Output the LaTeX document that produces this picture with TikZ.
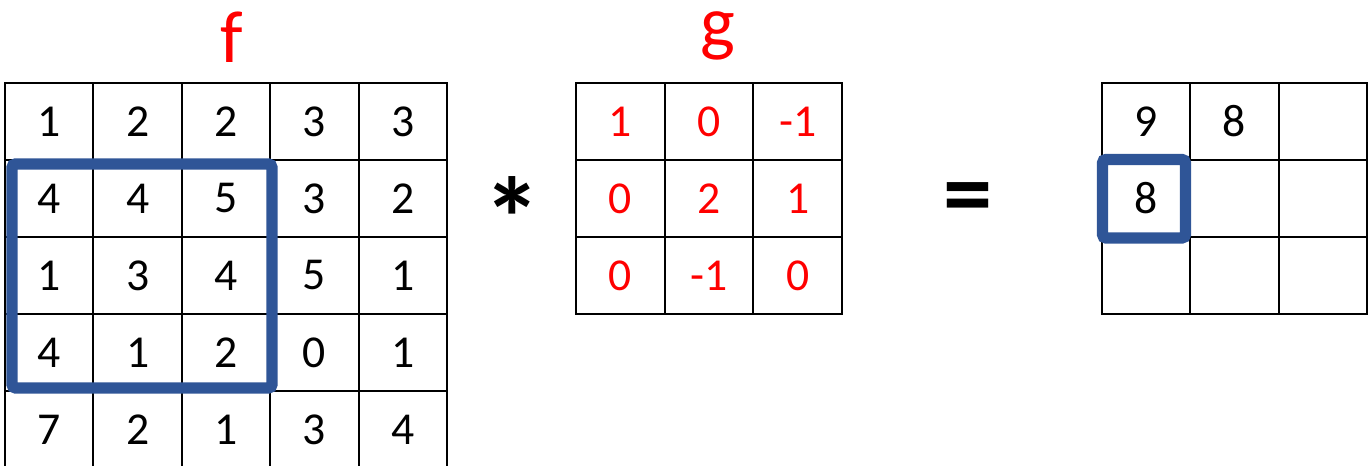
\documentclass[tikz,border=0pt]{standalone}
\usepackage{fontspec}
\setmainfont{Carlito}
\definecolor{winblue}{RGB}{47,85,151}

\begin{document}
\begin{tikzpicture}[
  fcell/.style={draw=black,line width=.6pt,minimum width=.884cm,minimum height=.77cm,inner sep=0pt,font=\fontsize{13}{15}\selectfont},
  gcell/.style={fcell,minimum width=.887cm,text=red},
  hcell/.style={fcell,minimum width=.883cm},
  title/.style={anchor=base,inner sep=0pt,text=red,font=\fontsize{21}{24}\selectfont},
  oper/.style={anchor=base,inner sep=0pt,font=\bfseries\fontsize{#1}{#1}\selectfont},
  window/.style={draw=winblue,line width=3.2pt,rounded corners=1pt}]
\useasboundingbox (0,0) rectangle (13.7,4.66);
% input f
\node[title] (ftitle) at (2.32,4.03) {f};
\node[fcell] (f11) at (.492,3.445) {1};
\node[fcell] (f12) at (1.376,3.445) {2};
\node[fcell] (f13) at (2.26,3.445) {2};
\node[fcell] (f14) at (3.144,3.445) {3};
\node[fcell] (f15) at (4.028,3.445) {3};
\node[fcell] (f21) at (.492,2.675) {4};
\node[fcell] (f22) at (1.376,2.675) {4};
\node[fcell] (f23) at (2.26,2.675) {5};
\node[fcell] (f24) at (3.144,2.675) {3};
\node[fcell] (f25) at (4.028,2.675) {2};
\node[fcell] (f31) at (.492,1.905) {1};
\node[fcell] (f32) at (1.376,1.905) {3};
\node[fcell] (f33) at (2.26,1.905) {4};
\node[fcell] (f34) at (3.144,1.905) {5};
\node[fcell] (f35) at (4.028,1.905) {1};
\node[fcell] (f41) at (.492,1.135) {4};
\node[fcell] (f42) at (1.376,1.135) {1};
\node[fcell] (f43) at (2.26,1.135) {2};
\node[fcell] (f44) at (3.144,1.135) {0};
\node[fcell] (f45) at (4.028,1.135) {1};
\node[fcell] (f51) at (.492,.365) {7};
\node[fcell] (f52) at (1.376,.365) {2};
\node[fcell] (f53) at (2.26,.365) {1};
\node[fcell] (f54) at (3.144,.365) {3};
\node[fcell] (f55) at (4.028,.365) {4};
\draw[window] (.12,3.02) rectangle (2.72,.78);
\node[oper=33] (star) at (5.12,2.06) {*};
% kernel g
\node[title] (gtitle) at (7.18,4.18) {g};
\node[gcell] (g11) at (6.2035,3.445) {1};
\node[gcell] (g12) at (7.0905,3.445) {0};
\node[gcell] (g13) at (7.9775,3.445) {-1};
\node[gcell] (g21) at (6.2035,2.675) {0};
\node[gcell] (g22) at (7.0905,2.675) {2};
\node[gcell] (g23) at (7.9775,2.675) {1};
\node[gcell] (g31) at (6.2035,1.905) {0};
\node[gcell] (g32) at (7.0905,1.905) {-1};
\node[gcell] (g33) at (7.9775,1.905) {0};
\node[oper=28] (equals) at (9.685,2.39) {=};
% result
\node[hcell] (h11) at (11.4615,3.445) {9};
\node[hcell] (h12) at (12.3445,3.445) {8};
\node[hcell] (h13) at (13.2275,3.445) {};
\node[hcell] (h21) at (11.4615,2.675) {8};
\node[hcell] (h22) at (12.3445,2.675) {};
\node[hcell] (h23) at (13.2275,2.675) {};
\node[hcell] (h31) at (11.4615,1.905) {};
\node[hcell] (h32) at (12.3445,1.905) {};
\node[hcell] (h33) at (13.2275,1.905) {};
\draw[window] (11.025,3.065) rectangle (11.855,2.28);
\end{tikzpicture}
\end{document}
